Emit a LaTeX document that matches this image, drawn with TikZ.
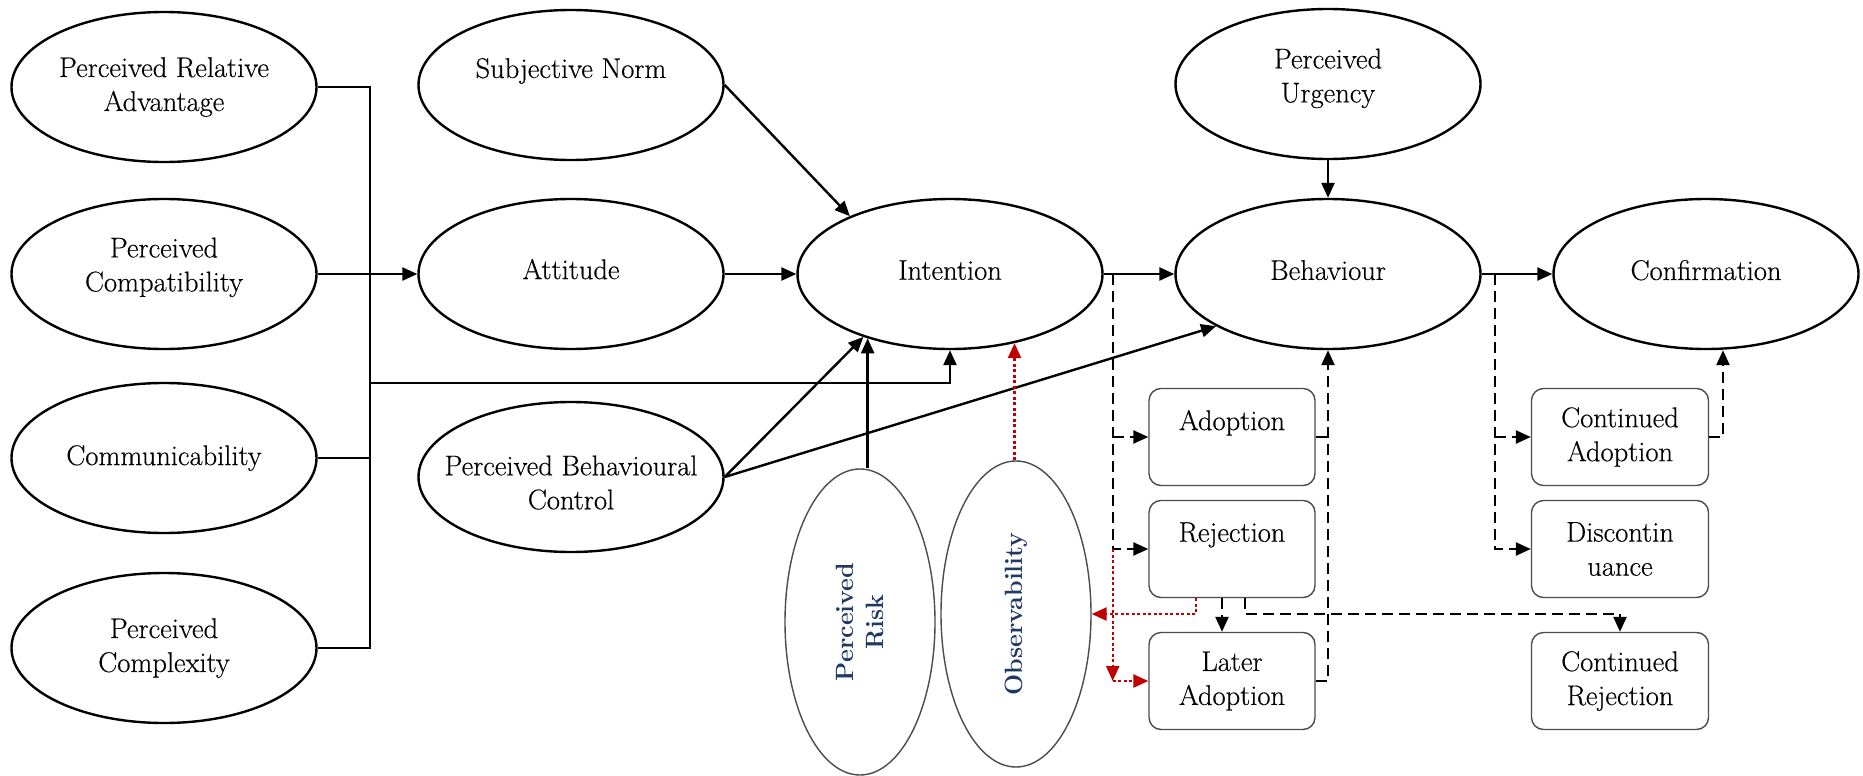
\documentclass[tikz,border=0pt]{standalone}
\usepackage{fontspec}
\newfontfamily\lblfont{Latin Modern Roman}[FakeBold=0.35]
\usetikzlibrary{arrows.meta,shapes.geometric,calc}
\definecolor{navy}{RGB}{31,56,100}
\definecolor{darkred}{RGB}{192,0,0}
% extra depth under the last line lifts the text inside its shape
\newcommand{\lift}[1]{\rule[-#1]{0pt}{#1}}
% extra height over the first line lowers the text inside its shape
\newcommand{\drop}[1]{\rule{0pt}{#1}}
\begin{document}
\begin{tikzpicture}[x=1pt,y=-1pt,
  font=\lblfont\fontsize{28.5}{34}\selectfont,
  >={Triangle[length=15pt,width=13pt]},
  oval/.style={draw, line width=2.4pt, ellipse, minimum width=305pt,
    minimum height=150pt, inner xsep=-60pt, inner ysep=0pt, align=center},
  tall/.style={draw=black!70, line width=1.4pt, ellipse, minimum width=306pt,
    minimum height=150pt, inner xsep=-60pt, inner ysep=0pt, align=center,
    rotate=90, text=navy, font=\fontsize{25}{30}\selectfont\bfseries},
  stage/.style={draw=black!70, line width=1.4pt, rounded corners=12pt,
    minimum width=166pt, minimum height=97pt, align=center, inner sep=0pt},
  wstage/.style={stage, minimum width=177pt},
  conn/.style={line width=2.4pt},
  dashc/.style={line width=2.4pt, dash pattern=on 11pt off 6pt},
  redc/.style={line width=2.4pt, darkred, dash pattern=on 3pt off 2.5pt}]

\fill[white] (0,0) rectangle (1863,776);
\useasboundingbox (0,0) rectangle (1863,776);

% antecedents
\node[oval] (PRA)  at (164,87)  {Perceived Relative\\Advantage};
\node[oval] (PC)   at (164,274) {Perceived\\Compatibility\lift{19pt}};
\node[oval] (Comm) at (164,458) {Communicability};
\node[oval] (PCx)  at (164,648) {Perceived\\Complexity};

\node[oval] (SN)   at (571,85)  {Subjective Norm\\~};
\node[oval] (Att)  at (571,274) {Attitude\lift{10pt}};
\node[oval] (PBC)  at (571,477) {\drop{31pt}Perceived Behavioural\\Control};

% core chain
\node[oval] (Int)  at (950,274)  {Intention\lift{8pt}};
\node[oval] (Beh)  at (1328,274) {Behaviour\lift{8pt}};
\node[oval] (PU)   at (1328,84)  {Perceived\\Urgency\lift{17pt}};
\node[oval] (Conf) at (1706,274) {Confirmation\lift{8pt}};

% moderators
\node[tall] (PR)  at (860,622)  {Perceived\\Risk};
\node[tall] (Obs) at (1016,614) {Observability};

% outcome stages
\node[stage] (Adop)  at (1232,437) {Adoption\\~};
\node[stage] (Rej)   at (1232,549) {Rejection\\~};
\node[stage] (LAdop) at (1232,681) {Later\\Adoption};
\node[wstage] (CAdop) at (1620,437) {Continued\\Adoption};
\node[wstage] (Disc)  at (1620,549) {Discontin\\uance};
\node[wstage] (CRej)  at (1620,681) {Continued\\Rejection};

% bus collecting the innovation attributes
\coordinate (bx) at (370,383);
\draw[conn] (PRA.east) -| (bx) |- (PCx.east);
\draw[conn] (Comm.east) -- (Comm.east -| bx);
\draw[conn,->] (PC.east) -- (Att.west);
\draw[conn,->] (bx) -| (Int.south);

% paths into intention and behaviour
\draw[conn,->] (SN.east) -- (Int.150);
\draw[conn,->] (Att.east) -- (Int.west);
\draw[conn,->] (PBC.east) -- (Int.216);
\draw[conn,->] (PBC.east) -- (Beh.205);
\draw[conn,->] (Int.218 |- PR.east) -- (Int.218);
\draw[redc,->] (Int.313 |- Obs.east) -- (Int.313);
\draw[conn,->] (Int.east) -- (Beh.west);
\draw[conn,->] (PU.south) -- (Beh.north);
\draw[conn,->] (Beh.east) -- (Conf.west);

% intention splits into adoption / rejection
\coordinate (s1) at ([xshift=9pt]Int.east);
\draw[dashc,->] (s1) |- (Rej.west);
\draw[dashc,->] (s1 |- Adop.west) -- (Adop.west);
\draw[redc,->] (s1 |- Rej.west) -- (s1 |- LAdop.west);
\draw[redc,->] (s1 |- LAdop.west) -- (LAdop.west);
\draw[redc,->] ([xshift=-36pt]Rej.south) |- (Obs.south);
\draw[dashc,->] ([xshift=-10pt]Rej.south) -- ([xshift=-10pt]LAdop.north);
\draw[dashc,->] ([xshift=13pt]Rej.south) |- (Obs.south -| CRej.north) -- (CRej.north);

% adoption feeds back into behaviour
\draw[dashc] (Adop.east) -- (Adop.east -| Beh.south);
\draw[dashc,->] (LAdop.east) -| (Beh.south);

% behaviour splits into continuation / discontinuance
\coordinate (s2) at ([xshift=13pt]Beh.east);
\draw[dashc,->] (s2) |- (Disc.west);
\draw[dashc,->] (s2 |- CAdop.west) -- (CAdop.west);
\draw[dashc,->] (CAdop.east) -| ([xshift=17pt]Conf.south);
\end{tikzpicture}
\end{document}
